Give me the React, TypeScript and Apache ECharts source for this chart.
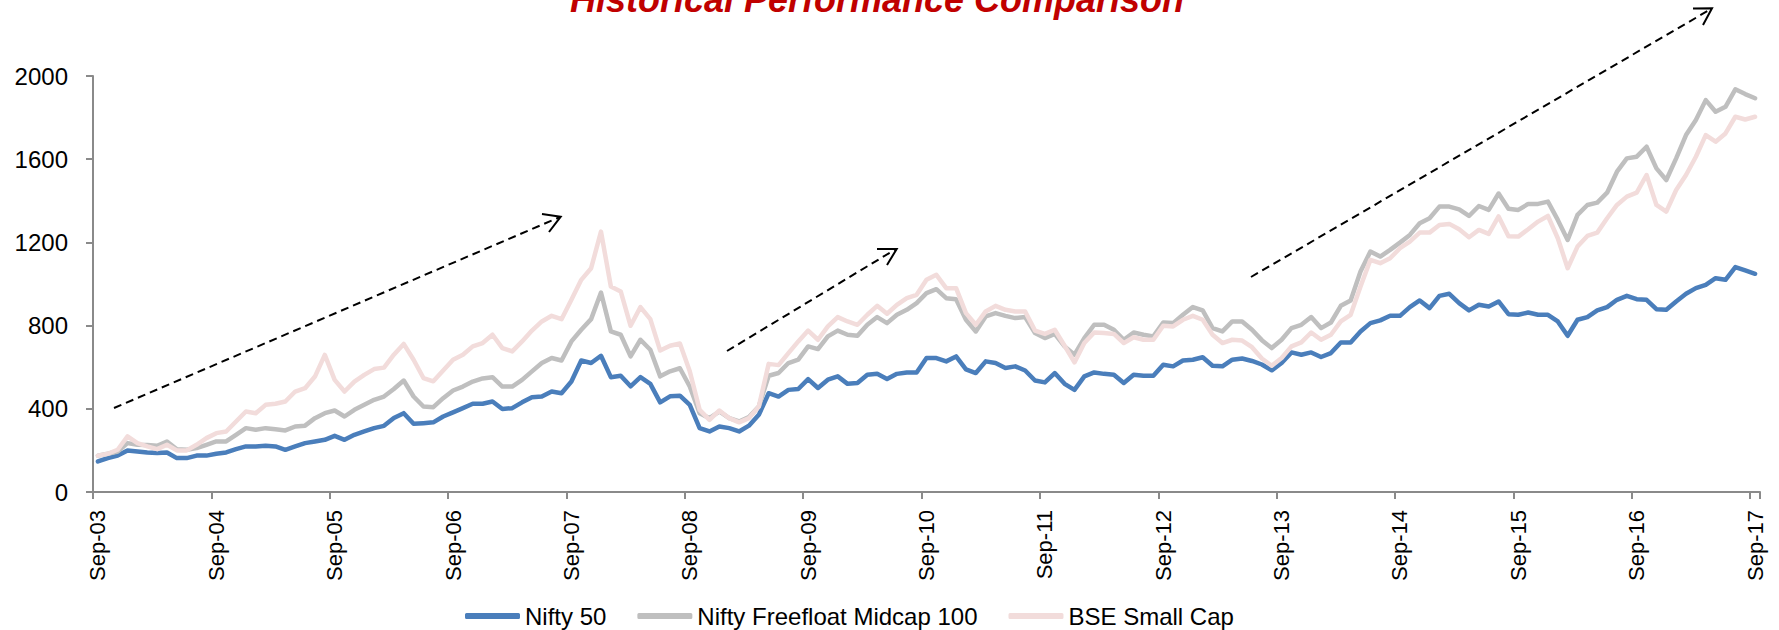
import React, { useEffect, useRef } from "react";
import * as echarts from "echarts";

// ---- Data ----
const MONTHS = ["Jan", "Feb", "Mar", "Apr", "May", "Jun", "Jul", "Aug", "Sep", "Oct", "Nov", "Dec"];
const START_YEAR = 2003;
const START_MONTH = 8; // Sep
const MONTH_COUNT = 169; // Sep-03 .. Sep-17

const categories: string[] = [];
for (let i = 0; i < MONTH_COUNT; i++) {
  const m = (START_MONTH + i) % 12;
  const y = START_YEAR + Math.floor((START_MONTH + i) / 12);
  categories.push(`${MONTHS[m]}-${String(y % 100).padStart(2, "0")}`);
}

const TICK_LABELS = ["Sep-03", "Sep-04", "Sep-05", "Sep-06", "Sep-07", "Sep-08", "Sep-09", "Sep-10", "Sep-11", "Sep-12", "Sep-13", "Sep-14", "Sep-15", "Sep-16", "Sep-17"];

const nifty50 = [
  147, 163, 175, 200, 195, 190, 187, 190, 163, 163, 175, 175,
  184, 190, 206, 219, 219, 222, 219, 203, 219, 235, 243, 251,
  270, 251, 275, 291, 307, 318, 356, 379, 328, 331, 335, 363,
  383, 403, 424, 424, 435, 399, 403, 431, 456, 459, 483, 475,
  531, 632, 620, 655, 552, 559, 508, 552, 520, 431, 460, 463,
  419, 307, 291, 315, 307, 291, 319, 371, 475, 459, 491, 495,
  543, 500, 540, 556, 520, 524, 564, 568, 543, 568, 575, 575,
  644, 644, 628, 652, 590, 572, 628, 620, 596, 604, 584, 536,
  527, 572, 520, 491, 556, 575, 568, 564, 524, 564, 559, 559,
  612, 604, 632, 636, 648, 607, 604, 636, 642, 630, 613, 585,
  620, 671, 660, 671, 649, 668, 719, 719, 772, 812, 825, 847,
  847, 889, 921, 884, 943, 953, 908, 873, 900, 892, 916, 855,
  852, 863, 852, 852, 820, 751, 828, 841, 873, 889, 924, 943,
  927, 924, 879, 876, 916, 953, 980, 996, 1028, 1020, 1081, 1065,
  1049,
];

const midcap100 = [
  175, 184, 195, 235, 227, 226, 222, 243, 206, 203, 211, 227,
  243, 243, 275, 307, 299, 307, 302, 296, 315, 319, 355, 379,
  392, 363, 395, 419, 443, 459, 495, 536, 459, 411, 408, 451,
  488, 507, 531, 546, 552, 507, 507, 539, 580, 620, 644, 632,
  724, 780, 831, 959, 772, 756, 652, 732, 684, 556, 580, 595,
  507, 379, 355, 387, 355, 339, 360, 411, 559, 572, 620, 636,
  700, 687, 748, 776, 756, 751, 804, 841, 812, 852, 876, 908,
  956, 975, 932, 927, 828, 772, 844, 860, 847, 836, 841, 764,
  740, 760, 700, 660, 740, 804, 804, 780, 732, 767, 756, 748,
  815, 812, 852, 889, 873, 788, 772, 820, 820, 780, 730, 692,
  732, 788, 804, 841, 788, 815, 895, 921, 1060, 1156, 1132, 1164,
  1199, 1236, 1292, 1316, 1372, 1372, 1359, 1327, 1375, 1356, 1435, 1362,
  1356, 1385, 1385, 1396, 1308, 1212, 1332, 1380, 1391, 1439, 1540, 1604,
  1612, 1660, 1556, 1500, 1604, 1716, 1788, 1884, 1828, 1852, 1936, 1913,
  1893,
];

const smallCap = [
  175, 184, 203, 267, 235, 219, 206, 227, 200, 200, 227, 259,
  283, 291, 339, 387, 379, 419, 424, 435, 483, 499, 555, 659,
  539, 483, 531, 563, 591, 598, 660, 712, 636, 548, 532, 584,
  636, 660, 700, 716, 756, 692, 676, 724, 776, 820, 847, 831,
  924, 1020, 1076, 1252, 988, 964, 799, 889, 831, 680, 703, 714,
  580, 395, 347, 392, 355, 335, 355, 411, 616, 610, 668, 724,
  776, 732, 796, 841, 820, 804, 852, 895, 857, 900, 932, 948,
  1020, 1044, 980, 980, 860, 804, 868, 895, 876, 868, 868, 776,
  760, 780, 703, 623, 716, 767, 764, 760, 716, 744, 732, 732,
  799, 796, 828, 847, 828, 756, 716, 732, 728, 696, 642, 607,
  644, 700, 719, 767, 732, 756, 820, 852, 988, 1116, 1100, 1124,
  1172, 1204, 1247, 1247, 1284, 1289, 1263, 1225, 1260, 1241, 1325, 1230,
  1228, 1263, 1300, 1327, 1220, 1076, 1180, 1231, 1247, 1316, 1380, 1420,
  1439, 1524, 1380, 1348, 1452, 1524, 1612, 1716, 1684, 1724, 1804, 1791,
  1804,
];

const SERIES_NAMES = ["Nifty 50", "Nifty Freefloat Midcap 100", "BSE Small Cap"];
const COLORS = ["#4A7EBB", "#BFBFBF", "#F2DCDB"];
const TITLE = "Historical Performance Comparison";

const FONT = "'Liberation Sans', Arial, sans-serif";
const AXIS_COLOR = "#8a8a8a";

const isTick = (_i: number, v: string) => TICK_LABELS.indexOf(v) >= 0;

function arrow(line: number[], head: number[][]) {
  return [
    {
      type: "line",
      shape: { x1: line[0], y1: line[1], x2: line[2], y2: line[3] },
      style: { stroke: "#000", lineWidth: 2, lineDash: [8, 5] },
      silent: true,
    },
    {
      type: "polyline",
      shape: { points: head },
      style: { stroke: "#000", lineWidth: 2, fill: null },
      silent: true,
    },
  ];
}

export default function App() {
  const ref = useRef<HTMLDivElement>(null);

  useEffect(() => {
    if (!ref.current) return;
    const chart = echarts.init(ref.current, null, { renderer: "svg" });
    const seriesData = [nifty50, midcap100, smallCap];

    const option: any = {
      animation: false,
      backgroundColor: "#ffffff",
      grid: { left: 93, right: 19, top: 76, bottom: 138 },
      xAxis: {
        type: "category",
        data: categories,
        boundaryGap: true,
        axisLine: { show: true, lineStyle: { color: AXIS_COLOR, width: 2 } },
        axisTick: { show: true, interval: isTick, length: 7, lineStyle: { color: AXIS_COLOR, width: 2 } },
        axisLabel: {
          interval: isTick,
          rotate: 90,
          margin: 18,
          color: "#000",
          fontSize: 22,
          fontFamily: FONT,
        },
        splitLine: { show: false },
      },
      yAxis: {
        type: "value",
        min: 0,
        max: 2000,
        interval: 400,
        axisLine: { show: true, lineStyle: { color: AXIS_COLOR, width: 2 } },
        axisTick: { show: true, length: 7, lineStyle: { color: AXIS_COLOR, width: 2 } },
        axisLabel: {
          margin: 25,
          color: "#000",
          fontSize: 24,
          fontFamily: FONT,
          formatter: (v: number) => String(v),
        },
        splitLine: { show: false },
      },
      legend: {
        data: SERIES_NAMES,
        left: 460,
        top: 597,
        icon: "roundRect",
        itemWidth: 55,
        itemHeight: 6,
        itemGap: 31,
        textStyle: { color: "#000", fontSize: 24, fontFamily: FONT, lineHeight: 28 },
        itemStyle: { borderWidth: 0 },
      },
      series: SERIES_NAMES.map((name, k) => ({
        name,
        type: "line",
        data: seriesData[k],
        symbol: "none",
        showSymbol: false,
        color: COLORS[k],
        lineStyle: { color: COLORS[k], width: 4.5, join: "round", cap: "round" },
        itemStyle: { color: COLORS[k] },
        z: 2 + k,
      })),
      graphic: [
        {
          type: "text",
          x: 877,
          y: -1,
          style: {
            text: TITLE,
            fill: "#C00000",
            font: `italic bold 36px ${FONT}`,
            textAlign: "center",
            textVerticalAlign: "middle",
          },
          silent: true,
        },
        ...arrow([114, 408, 560, 217], [[542, 214], [560.7, 216.7], [549, 232]]),
        ...arrow([727, 351, 896, 249], [[877, 249], [896.7, 249], [887, 265]]),
        ...arrow([1251, 277, 1711, 9], [[1693, 8.5], [1712, 8.3], [1703, 25]]),
      ],
    };

    chart.setOption(option);
    return () => chart.dispose();
  }, []);

  return (
    <div
      ref={ref}
      style={{ position: "fixed", left: 0, top: 0, width: 1779, height: 630, background: "#fff" }}
    />
  );
}
